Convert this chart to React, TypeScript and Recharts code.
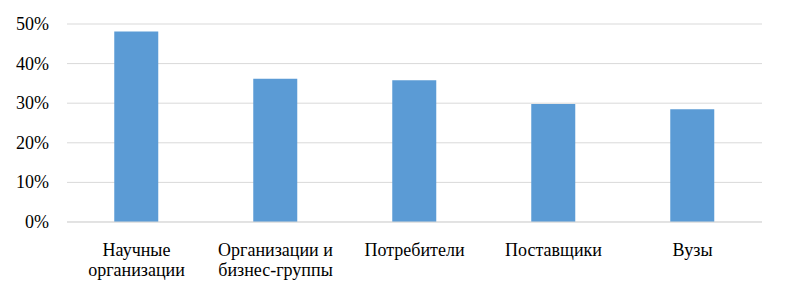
import { BarChart, Bar, XAxis, YAxis, CartesianGrid } from "recharts";

const categories = [
    "Научные\nорганизации",
    "Организации и\nбизнес-группы",
    "Потребители",
    "Поставщики",
    "Вузы",
];
const shares = [48.1, 36.2, 35.8, 29.8, 28.5];
const yTicks = [0, 10, 20, 30, 40, 50];

const data = categories.map((name, i) => ({ name, value: shares[i] }));

const font = "Liberation Serif";

function CategoryTick({ x, y, payload }: any) {
    const lines = String(payload.value).split("\n");
    return (
        <text x={x} y={y} textAnchor="middle" fill="#000" fontFamily={font} fontSize={18}>
            {lines.map((line, i) => (
                <tspan key={i} x={x} dy={i === 0 ? 32 : 20} fontFamily={font}>
                    {line}
                </tspan>
            ))}
        </text>
    );
}

function PercentTick({ x, y, payload }: any) {
    return (
        <text x={x} y={y} dy={6} textAnchor="end" fill="#000" fontFamily={font} fontSize={18}>
            {`${payload.value}%`}
        </text>
    );
}

export default function App() {
    return (
        <div style={{ position: "absolute", left: 0, top: 0, background: "#fff" }}>
            <BarChart
                width={786}
                height={294}
                data={data}
                margin={{ top: 24, right: 24, left: 0, bottom: 0 }}
                barCategoryGap="34%"
            >
                <CartesianGrid vertical={false} stroke="#d9d9d9" strokeWidth={1} />
                <XAxis
                    dataKey="name"
                    height={72}
                    axisLine={{ stroke: "#d9d9d9" }}
                    tickLine={false}
                    tickSize={0}
                    interval={0}
                    tick={<CategoryTick />}
                />
                <YAxis
                    width={67}
                    domain={[0, 50]}
                    ticks={yTicks}
                    axisLine={false}
                    tickLine={false}
                    tickSize={0}
                    tickMargin={18}
                    tick={<PercentTick />}
                />
                <Bar dataKey="value" fill="#5b9bd5" isAnimationActive={false} />
            </BarChart>
        </div>
    );
}
